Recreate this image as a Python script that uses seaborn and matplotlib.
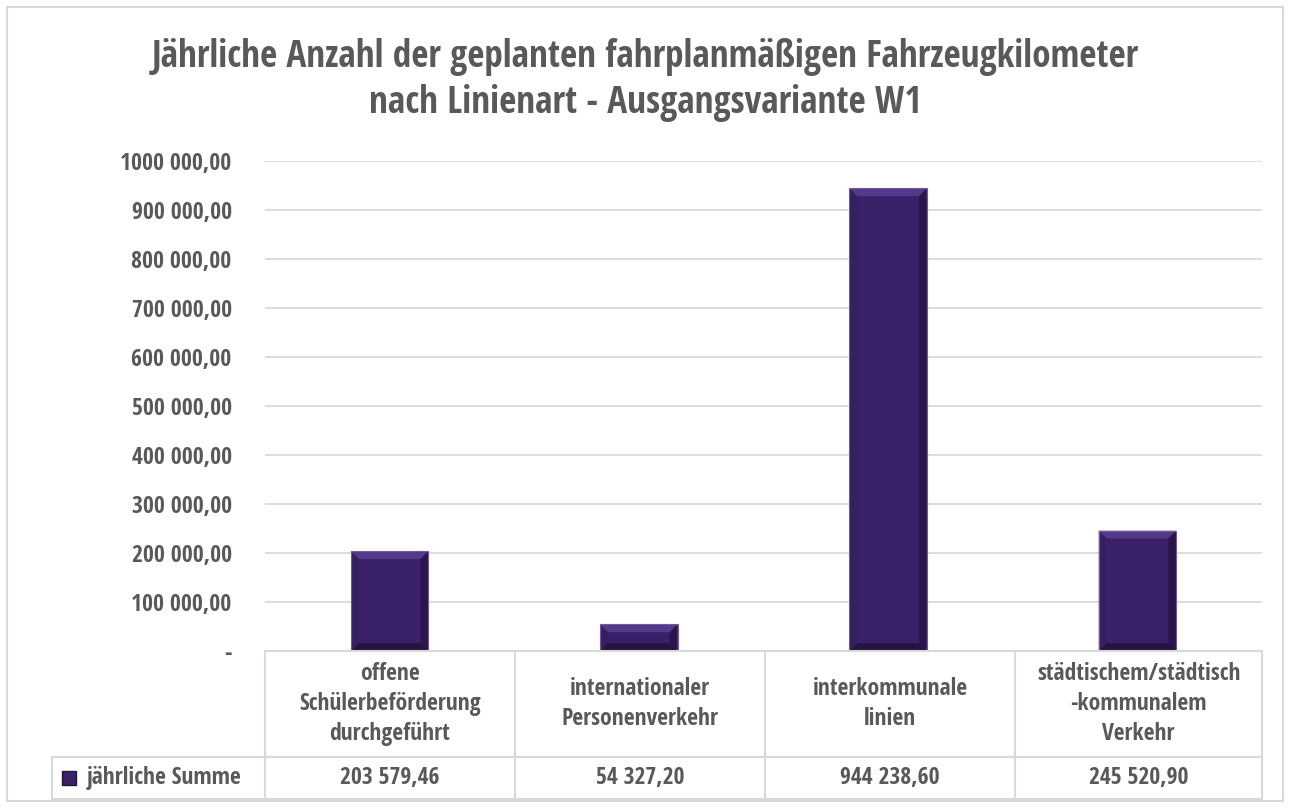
import numpy as np
import pandas as pd
import seaborn as sns
import matplotlib.pyplot as plt
from matplotlib.patches import Polygon, Rectangle

# data
categories = ['offene\nSchülerbeförderung\ndurchgeführt',
              'internationaler\nPersonenverkehr',
              'interkommunale\nlinien',
              'städtischem/städtisch\n-kommunalem\nVerkehr']
values = [203579.46, 54327.20, 944238.60, 245520.90]
value_labels = ['203 579,46', '54 327,20', '944 238,60', '245 520,90']
series_name = 'jährliche Summe'
y_ticks = [0, 100000, 200000, 300000, 400000, 500000, 600000, 700000, 800000, 900000, 1000000]
y_tick_labels = ['-', '100 000,00', '200 000,00', '300 000,00', '400 000,00', '500 000,00',
                 '600 000,00', '700 000,00', '800 000,00', '900 000,00', '1000 000,00']
title = 'Jährliche Anzahl der geplanten fahrplanmäßigen Fahrzeugkilometer\nnach Linienart - Ausgangsvariante W1'

sns.set_style('white')
plt.rcParams['font.family'] = ['Open Sans Condensed', 'Cabin Condensed', 'DejaVu Sans']
plt.rcParams['font.weight'] = 'bold'

txt = '#595959'
grid = '#d9d9d9'
bar_col = '#3a2068'
fs = 17

W, H = 1290, 807
fig = plt.figure(figsize=(W / 100, H / 100), dpi=100)
ax = fig.add_axes([265 / W, 1 - 651 / H, (1262 - 265) / W, (651 - 161) / H])

df = pd.DataFrame({'cat': categories, 'val': values})
sns.barplot(data=df, x='cat', y='val', color=bar_col, width=0.31, saturation=1, ax=ax, zorder=3)

ax.set_xlim(-0.5, 3.5)
ax.set_ylim(0, 1000000)
ax.set_yticks(y_ticks)
ax.set_yticklabels(y_tick_labels, fontsize=fs, color=txt, fontweight='bold')
ax.tick_params(axis='y', length=0, pad=24)
ax.set_xticks([])
ax.set_xlabel('')
ax.set_ylabel('')
for s in ax.spines.values():
    s.set_visible(False)
for t in y_ticks[1:]:
    ax.axhline(t, color=grid, lw=1.3, zorder=1)

# bevel effect on each bar
for p in ax.patches:
    x0, y0 = p.get_x(), p.get_y()
    w, h = p.get_width(), p.get_height()
    bx = w * 0.1
    by = min(16000, h * 0.3)
    x1, y1 = x0 + w, y0 + h
    ax.add_patch(Polygon([[x0, y1], [x1, y1], [x1 - bx, y1 - by], [x0 + bx, y1 - by]],
                         closed=True, color='#55398a', zorder=4, lw=0))
    ax.add_patch(Polygon([[x0, y0], [x1, y0], [x1 - bx, y0 + by], [x0 + bx, y0 + by]],
                         closed=True, color='#26133f', zorder=4, lw=0))
    ax.add_patch(Polygon([[x1, y0], [x1, y1], [x1 - bx, y1 - by], [x1 - bx, y0 + by]],
                         closed=True, color='#2a164b', zorder=4, lw=0))
    ax.add_patch(Polygon([[x0, y0], [x0, y1], [x0 + bx, y1 - by], [x0 + bx, y0 + by]],
                         closed=True, color='#35205f', zorder=4, lw=0))
    ax.add_patch(Rectangle((x0, y0), w, h, fill=False, ec='#6f5a9a', lw=0.8, zorder=5))

# data table below the plot
def fx(px):
    return px / W

def fy(py):
    return 1 - py / H

col_edges = [265, 515, 765, 1015, 1262]
lk = dict(color=grid, lw=1.5, transform=fig.transFigure)
fig.add_artist(plt.Line2D([fx(265), fx(1262)], [fy(651), fy(651)], **lk))
fig.add_artist(plt.Line2D([fx(52), fx(1262)], [fy(757), fy(757)], **lk))
fig.add_artist(plt.Line2D([fx(52), fx(1262)], [fy(799), fy(799)], **lk))
fig.add_artist(plt.Line2D([fx(52), fx(52)], [fy(757), fy(799)], **lk))
for cx in col_edges:
    fig.add_artist(plt.Line2D([fx(cx), fx(cx)], [fy(651), fy(799)], **lk))

for i, (c, v) in enumerate(zip(categories, value_labels)):
    xc = (col_edges[i] + col_edges[i + 1]) / 2
    fig.text(fx(xc), fy(704), c, ha='center', va='center', fontsize=fs,
             color=txt, fontweight='bold', linespacing=1.32)
    fig.text(fx(xc), fy(778), v, ha='center', va='center', fontsize=fs,
             color=txt, fontweight='bold')

fig.add_artist(Rectangle((fx(62), fy(785)), 14 / W, 14 / H, transform=fig.transFigure,
                         color=bar_col, ec='#24123f'))
fig.text(fx(87), fy(778), series_name, ha='left', va='center', fontsize=fs,
         color=txt, fontweight='bold')

# chart border
fig.add_artist(Rectangle((fx(7), fy(801)), (1283 - 7) / W, (801 - 7) / H,
                         transform=fig.transFigure, fill=False, ec=grid, lw=1.5))

fig.text(0.5, fy(80), title, ha='center', va='center', fontsize=26.8,
         color=txt, fontweight='bold', linespacing=1.3)

fig.savefig('out.png', dpi=100, facecolor='white')
